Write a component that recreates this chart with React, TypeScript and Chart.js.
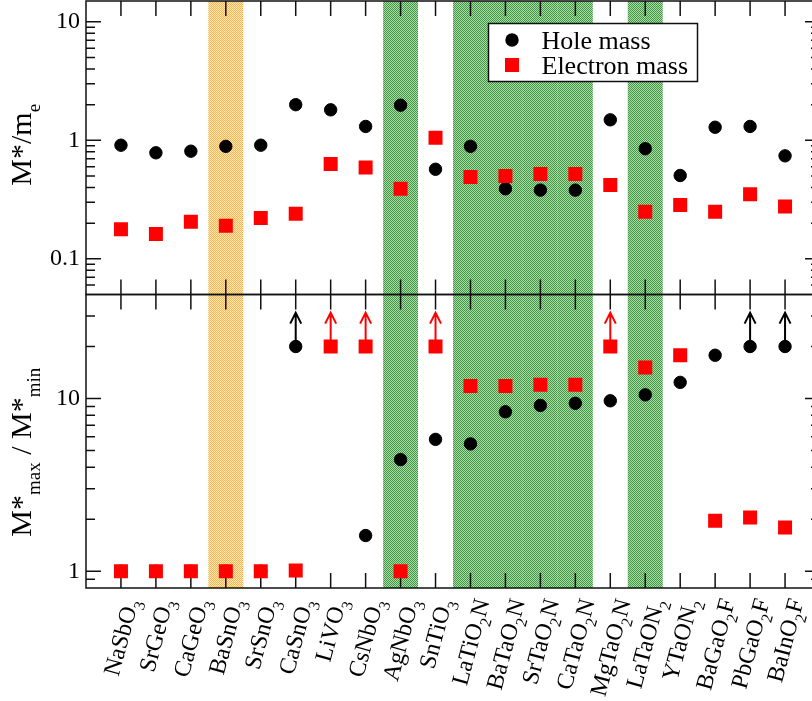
import React, { useEffect, useRef } from 'react';
import { Chart, registerables } from 'chart.js';

Chart.register(...registerables);

// Compounds along the x axis (digits are written as subscripts)
const compounds = [
  'NaSbO3', 'SrGeO3', 'CaGeO3', 'BaSnO3', 'SrSnO3', 'CaSnO3', 'LiVO3', 'CsNbO3',
  'AgNbO3', 'SnTiO3', 'LaTiO2N', 'BaTaO2N', 'SrTaO2N', 'CaTaO2N', 'MgTaO2N',
  'LaTaON2', 'YTaON2', 'BaGaO2F', 'PbGaO2F', 'BaInO2F',
];

// Upper panel: average effective masses (units of m_e)
const holeMass = [0.91, 0.785, 0.81, 0.89, 0.91, 2.0, 1.81, 1.31, 1.98, 0.57, 0.89, 0.39, 0.38, 0.38, 1.49, 0.85, 0.505, 1.29, 1.31, 0.74];
const electronMass = [0.178, 0.162, 0.206, 0.19, 0.221, 0.24, 0.63, 0.59, 0.39, 1.05, 0.49, 0.5, 0.52, 0.52, 0.42, 0.25, 0.285, 0.25, 0.35, 0.276];

// Lower panel: anisotropy M*max / M*min
const holeAnisotropy: (number | null)[] = [1, 1, 1, 1, 1, 20, null, 1.61, 4.43, 5.8, 5.46, 8.38, 9.12, 9.38, 9.7, 10.5, 12.4, 17.8, 20, 20];
const electronAnisotropy = [1, 1, 1, 1, 1, 1.01, 20, 20, 1.0, 20, 11.8, 11.8, 12.0, 12.0, 20, 15.1, 17.8, 1.96, 2.05, 1.79];

// Values that are only lower bounds (drawn with an upward arrow)
const holeLowerBound = ['CaSnO3', 'PbGaO2F', 'BaInO2F'];
const electronLowerBound = ['LiVO3', 'CsNbO3', 'SnTiO3', 'MgTaO2N'];

// Shaded columns
const orangeColumns = ['BaSnO3'];
const greenColumns = ['AgNbO3', 'LaTiO2N', 'BaTaO2N', 'SrTaO2N', 'CaTaO2N', 'LaTaON2'];

// Axis ticks
const topTicks = [0.1, 1, 10];
const bottomTicks = [1, 10];
const topRange = [0.05, 15];
const bottomRange = [0.8, 40];

const FONT = '"Liberation Serif", "Times New Roman", Times, serif';
const BLACK = '#000000';
const RED = '#ff0000';

type Seg = { t: string; sub?: boolean };

const formulaSegs = (name: string): Seg[] =>
  name.split(/(\d+)/).filter((s) => s.length > 0).map((s) => ({ t: s, sub: /^\d+$/.test(s) }));

const topTitle: Seg[] = [{ t: 'M*/m' }, { t: 'e', sub: true }];
const bottomTitle: Seg[] = [{ t: 'M*' }, { t: 'max', sub: true }, { t: ' / ' }, { t: 'M*' }, { t: 'min', sub: true }];

function measureSegs(ctx: CanvasRenderingContext2D, segs: Seg[], main: string, sub: string) {
  let w = 0;
  for (const s of segs) {
    ctx.font = s.sub ? sub : main;
    w += ctx.measureText(s.t).width;
  }
  return w;
}

function drawSegs(ctx: CanvasRenderingContext2D, segs: Seg[], x0: number, base: number, main: string, sub: string, shift: number) {
  let x = x0;
  ctx.textAlign = 'left';
  ctx.textBaseline = 'alphabetic';
  for (const s of segs) {
    ctx.font = s.sub ? sub : main;
    ctx.fillText(s.t, x, s.sub ? base + shift : base);
    x += ctx.measureText(s.t).width;
  }
}

function makeTile(size: number, paint: (x: number, y: number) => string) {
  const c = document.createElement('canvas');
  c.width = size;
  c.height = size;
  const g = c.getContext('2d')!;
  for (let y = 0; y < size; y++) {
    for (let x = 0; x < size; x++) {
      g.fillStyle = paint(x, y);
      g.fillRect(x, y, 1, 1);
    }
  }
  return c;
}

const points = (arr: (number | null)[]) =>
  arr.map((v, i) => (v == null ? null : { x: i + 1, y: v })).filter(Boolean) as { x: number; y: number }[];

const logTickValues = (lo: number, hi: number) => {
  const out: { v: number; major: boolean }[] = [];
  for (let e = Math.floor(Math.log10(lo)); e <= Math.ceil(Math.log10(hi)); e++) {
    for (let m = 1; m <= 9; m++) {
      const v = m * Math.pow(10, e);
      if (v >= lo * 1.0001 && v <= hi * 0.9999) out.push({ v, major: m === 1 });
    }
  }
  return out;
};

const panelsPlugin = {
  id: 'panels',
  beforeDatasetsDraw(chart: any) {
    const { ctx, chartArea, scales } = chart;
    const xs = scales.x;
    const half = (xs.getPixelForValue(2) - xs.getPixelForValue(1)) / 2;

    // shaded columns
    if (!chart.$patterns) {
      const orange = makeTile(2, (x, y) => ((x + y) % 2 === 0 ? '#ffb444' : '#ffe9c2'));
      const green = makeTile(2, (x, y) => ((x + y) % 2 === 0 ? '#3c9c3c' : '#b0d8b0'));
      chart.$patterns = {
        orange: ctx.createPattern(orange, 'repeat'),
        green: ctx.createPattern(green, 'repeat'),
      };
    }
    ctx.save();
    const shade = (names: string[], fill: CanvasPattern) => {
      ctx.fillStyle = fill;
      for (const n of names) {
        const cx = xs.getPixelForValue(compounds.indexOf(n) + 1);
        ctx.fillRect(cx - half, chartArea.top, half * 2, chartArea.bottom - chartArea.top);
      }
    };
    shade(orangeColumns, chart.$patterns.orange);
    shade(greenColumns, chart.$patterns.green);

    // frames and inward ticks of both panels
    ctx.strokeStyle = '#111';
    ctx.lineWidth = 1.5;
    const L = chartArea.left;
    const R = chartArea.right;
    for (const s of [scales.yTop, scales.yBot]) {
      ctx.beginPath();
      for (let i = 1; i <= compounds.length; i++) {
        const px = xs.getPixelForValue(i);
        ctx.moveTo(px, s.top);
        ctx.lineTo(px, s.top + 15);
        ctx.moveTo(px, s.bottom);
        ctx.lineTo(px, s.bottom - 15);
      }
      for (const t of logTickValues(s.min, s.max)) {
        const py = s.getPixelForValue(t.v);
        const len = t.major ? 15 : 9;
        ctx.moveTo(L, py);
        ctx.lineTo(L + len, py);
        ctx.moveTo(R, py);
        ctx.lineTo(R - len, py);
      }
      ctx.stroke();
      ctx.strokeRect(L, s.top, R - L, s.bottom - s.top);
    }

    // lower-bound arrows in the anisotropy panel
    const yb = scales.yBot;
    const arrow = (names: string[], values: (number | null)[], color: string) => {
      ctx.strokeStyle = color;
      ctx.lineWidth = 2;
      for (const n of names) {
        const i = compounds.indexOf(n);
        const v = values[i];
        if (v == null) continue;
        const px = xs.getPixelForValue(i + 1);
        const py = yb.getPixelForValue(v);
        const tip = yb.getPixelForValue(v * 1.57);
        ctx.beginPath();
        ctx.moveTo(px, py);
        ctx.lineTo(px, tip + 1);
        ctx.moveTo(px - 5.5, tip + 11);
        ctx.lineTo(px, tip);
        ctx.lineTo(px + 5.5, tip + 11);
        ctx.stroke();
      }
    };
    arrow(holeLowerBound, holeAnisotropy, BLACK);
    arrow(electronLowerBound, electronAnisotropy, RED);
    ctx.restore();
  },
  afterDatasetsDraw(chart: any) {
    const { ctx, chartArea } = chart;
    // legend box
    const lx = chartArea.left + 402.5;
    const ly = chartArea.top + 22.5;
    ctx.save();
    ctx.fillStyle = '#ffffff';
    ctx.fillRect(lx, ly, 209, 58);
    ctx.strokeStyle = '#111';
    ctx.lineWidth = 1.5;
    ctx.strokeRect(lx, ly, 209, 58);
    ctx.fillStyle = BLACK;
    ctx.beginPath();
    ctx.arc(lx + 23.5, ly + 16.5, 6.7, 0, Math.PI * 2);
    ctx.fill();
    ctx.fillStyle = RED;
    ctx.fillRect(lx + 16.5, ly + 34.5, 14, 14);
    ctx.fillStyle = BLACK;
    ctx.font = `26px ${FONT}`;
    ctx.textAlign = 'left';
    ctx.textBaseline = 'alphabetic';
    ctx.fillText('Hole mass', lx + 53, ly + 25.5);
    ctx.fillText('Electron mass', lx + 53, ly + 50.5);
    ctx.restore();
  },
  afterDraw(chart: any) {
    const { ctx, chartArea, scales } = chart;
    const xs = scales.x;
    ctx.save();
    ctx.fillStyle = BLACK;

    // y axis titles, rotated
    const titleMain = `30px ${FONT}`;
    const titleSub = `19px ${FONT}`;
    const drawTitle = (segs: Seg[], cy: number) => {
      const w = measureSegs(ctx, segs, titleMain, titleSub);
      ctx.save();
      ctx.translate(31, cy);
      ctx.rotate(-Math.PI / 2);
      drawSegs(ctx, segs, -w / 2, 0, titleMain, titleSub, 9);
      ctx.restore();
    };
    drawTitle(topTitle, (scales.yTop.top + scales.yTop.bottom) / 2 - 3);
    drawTitle(bottomTitle, (scales.yBot.top + scales.yBot.bottom) / 2 + 11);

    // slanted compound labels
    const ang = (75 * Math.PI) / 180;
    const main = `24px ${FONT}`;
    const sub = `16px ${FONT}`;
    const capH = 16;
    const labelTop = chartArea.bottom + 9;
    compounds.forEach((name, i) => {
      const segs = formulaSegs(name);
      const w = measureSegs(ctx, segs, main, sub);
      const px = xs.getPixelForValue(i + 1);
      const ay = labelTop + (w / 2) * Math.sin(ang) + (capH / 2) * Math.cos(ang);
      ctx.save();
      ctx.translate(px, ay);
      ctx.rotate(-ang);
      drawSegs(ctx, segs, -w / 2, capH / 2, main, sub, 7);
      ctx.restore();
    });
    ctx.restore();
  },
};

const yScale = (range: number[], ticks: number[]) => ({
  type: 'logarithmic' as const,
  position: 'left' as const,
  stack: 'panels',
  stackWeight: 1,
  min: range[0],
  max: range[1],
  grid: { display: false, drawTicks: false },
  border: { display: false },
  afterBuildTicks(s: any) {
    s.ticks = ticks.map((v) => ({ value: v }));
  },
  afterFit(s: any) {
    s.width = 86;
    s.paddingTop = 0;
    s.paddingBottom = 0;
  },
  ticks: {
    autoSkip: false,
    padding: 6,
    color: BLACK,
    font: { family: FONT, size: 24 },
    callback: (v: number | string) => String(v),
  },
});

export default function App() {
  const ref = useRef<HTMLCanvasElement | null>(null);

  useEffect(() => {
    if (!ref.current) return;
    const chart = new Chart(ref.current, {
      type: 'scatter',
      data: {
        datasets: [
          {
            label: 'Electron mass',
            data: points(electronMass),
            yAxisID: 'yTop',
            pointStyle: 'rect',
            pointRadius: 9.9,
            backgroundColor: RED,
            borderColor: RED,
            borderWidth: 0,
            order: 0,
          },
          {
            label: 'Hole mass',
            data: points(holeMass),
            yAxisID: 'yTop',
            pointStyle: 'circle',
            pointRadius: 6.2,
            backgroundColor: BLACK,
            borderColor: BLACK,
            borderWidth: 1,
            order: 1,
          },
          {
            label: 'Electron anisotropy',
            data: points(electronAnisotropy),
            yAxisID: 'yBot',
            pointStyle: 'rect',
            pointRadius: 9.9,
            backgroundColor: RED,
            borderColor: RED,
            borderWidth: 0,
            order: 0,
          },
          {
            label: 'Hole anisotropy',
            data: points(holeAnisotropy),
            yAxisID: 'yBot',
            pointStyle: 'circle',
            pointRadius: 6.2,
            backgroundColor: BLACK,
            borderColor: BLACK,
            borderWidth: 1,
            order: 1,
          },
        ],
      },
      options: {
        animation: false,
        responsive: false,
        devicePixelRatio: 1,
        layout: { autoPadding: false, padding: { top: 1, right: 10, left: 0, bottom: 0 } },
        plugins: { legend: { display: false }, tooltip: { enabled: false } },
        scales: {
          x: {
            type: 'linear',
            min: 0,
            max: compounds.length + 1,
            grid: { display: false, drawTicks: false },
            border: { display: false },
            ticks: { display: false },
            afterFit(s: any) {
              s.height = 113;
            },
          },
          yBot: yScale(bottomRange, bottomTicks),
          yTop: yScale(topRange, topTicks),
        },
      } as any,
      plugins: [panelsPlugin],
    });
    return () => chart.destroy();
  }, []);

  return (
    <div style={{ position: 'fixed', left: 0, top: 0, width: 812, height: 701, overflow: 'hidden', background: '#fff' }}>
      <canvas ref={ref} width={830} height={701} style={{ display: 'block', width: 830, height: 701 }} />
    </div>
  );
}
